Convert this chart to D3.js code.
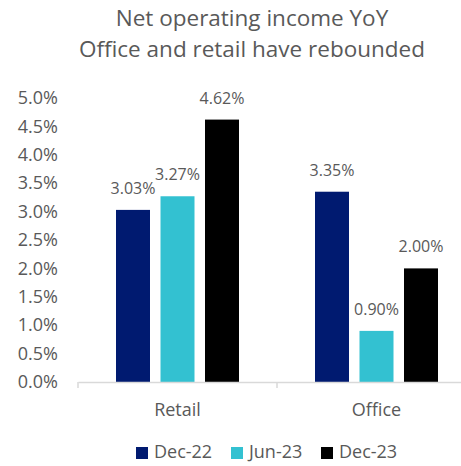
<!DOCTYPE html>
<html>
<head>
<meta charset="utf-8">
<script src="https://cdn.jsdelivr.net/npm/d3@7"></script>
<style>
  body { margin: 0; background: #fff; }
  text { font-family: "Open Sans", sans-serif; fill: #595959; }
</style>
</head>
<body>
<div id="chart"></div>
<script>
const categories = ['Retail', 'Office'];
const seriesNames = ['Dec-22', 'Jun-23', 'Dec-23'];
const seriesColors = ['#001a70', '#33c1d1', '#000000'];
const retailValues = [3.03, 3.27, 4.62];
const officeValues = [3.35, 0.90, 2.00];
const yTicks = [0, 0.5, 1, 1.5, 2, 2.5, 3, 3.5, 4, 4.5, 5];
const titleLines = ['Net operating income YoY', 'Office and retail have rebounded'];

const width = 461;
const height = 466;
const margin = { top: 98, bottom: 84, left: 78, right: -15 };

const data = categories.map((c, i) => ({
  name: c,
  values: (i === 0 ? retailValues : officeValues).map((v, j) => ({ series: seriesNames[j], value: v, idx: j }))
}));

const svg = d3.select('#chart')
  .append('svg')
  .attr('width', width)
  .attr('height', height);

const x0 = d3.scaleBand()
  .domain(categories)
  .range([margin.left, width - margin.right])
  .paddingInner(0)
  .paddingOuter(0);

const groupW = 123;
const x1 = d3.scaleBand()
  .domain(seriesNames)
  .range([0, groupW])
  .paddingInner(0.236)
  .paddingOuter(0);

const y = d3.scaleLinear()
  .domain([0, 5])
  .range([height - margin.bottom, margin.top]);

// title
svg.append('g')
  .selectAll('text')
  .data(titleLines)
  .join('text')
    .attr('x', 252)
    .attr('y', (d, i) => 26 + i * 31)
    .attr('text-anchor', 'middle')
    .attr('font-size', '22.5px')
    .text(d => d);

// y axis (labels only)
svg.append('g')
  .attr('transform', `translate(${margin.left - 20},0)`)
  .call(d3.axisLeft(y).tickValues(yTicks).tickSize(0).tickFormat(d => d.toFixed(1) + '%'))
  .call(g => g.select('.domain').remove())
  .call(g => g.selectAll('text').attr('font-size', '18px').attr('fill', '#595959').attr('x', 0).attr('font-family', '"Open Sans", sans-serif'));

// bars
const groups = svg.append('g')
  .selectAll('g')
  .data(data)
  .join('g')
    .attr('transform', d => `translate(${x0(d.name) + (x0.bandwidth() - groupW) / 2},0)`);

groups.selectAll('rect')
  .data(d => d.values)
  .join('rect')
    .attr('x', d => x1(d.series))
    .attr('y', d => y(d.value))
    .attr('width', x1.bandwidth())
    .attr('height', d => y(0) - y(d.value))
    .attr('fill', d => seriesColors[d.idx]);

groups.selectAll('text.lbl')
  .data(d => d.values)
  .join('text')
    .attr('class', 'lbl')
    .attr('x', d => x1(d.series) + x1.bandwidth() / 2)
    .attr('y', d => y(d.value) - 16)
    .attr('text-anchor', 'middle')
    .attr('font-size', '16px')
    .text(d => d.value.toFixed(2) + '%');

// x axis
const xAxis = svg.append('g')
  .attr('transform', `translate(0,${y(0)})`)
  .call(d3.axisBottom(x0).tickSize(0).tickPadding(21));
xAxis.select('.domain').attr('stroke', '#d9d9d9').attr('stroke-width', 1.5);
xAxis.selectAll('text').attr('font-size', '18px').attr('fill', '#595959').attr('font-family', '"Open Sans", sans-serif');
xAxis.append('g')
  .selectAll('line')
  .data(x0.domain().concat([null]))
  .join('line')
    .attr('x1', d => d === null ? x0.range()[1] : x0(d))
    .attr('x2', d => d === null ? x0.range()[1] : x0(d))
    .attr('y1', 0)
    .attr('y2', 6)
    .attr('stroke', '#d9d9d9')
    .attr('stroke-width', 1.5);

// legend
const legendX = [136, 231, 321];
const legend = svg.append('g')
  .selectAll('g')
  .data(seriesNames)
  .join('g')
    .attr('transform', (d, i) => `translate(${legendX[i]},447)`);
legend.append('rect')
  .attr('width', 12)
  .attr('height', 12)
  .attr('fill', (d, i) => seriesColors[i]);
legend.append('text')
  .attr('x', 18)
  .attr('y', 11)
  .attr('font-size', '18px')
  .text(d => d);
</script>
</body>
</html>
